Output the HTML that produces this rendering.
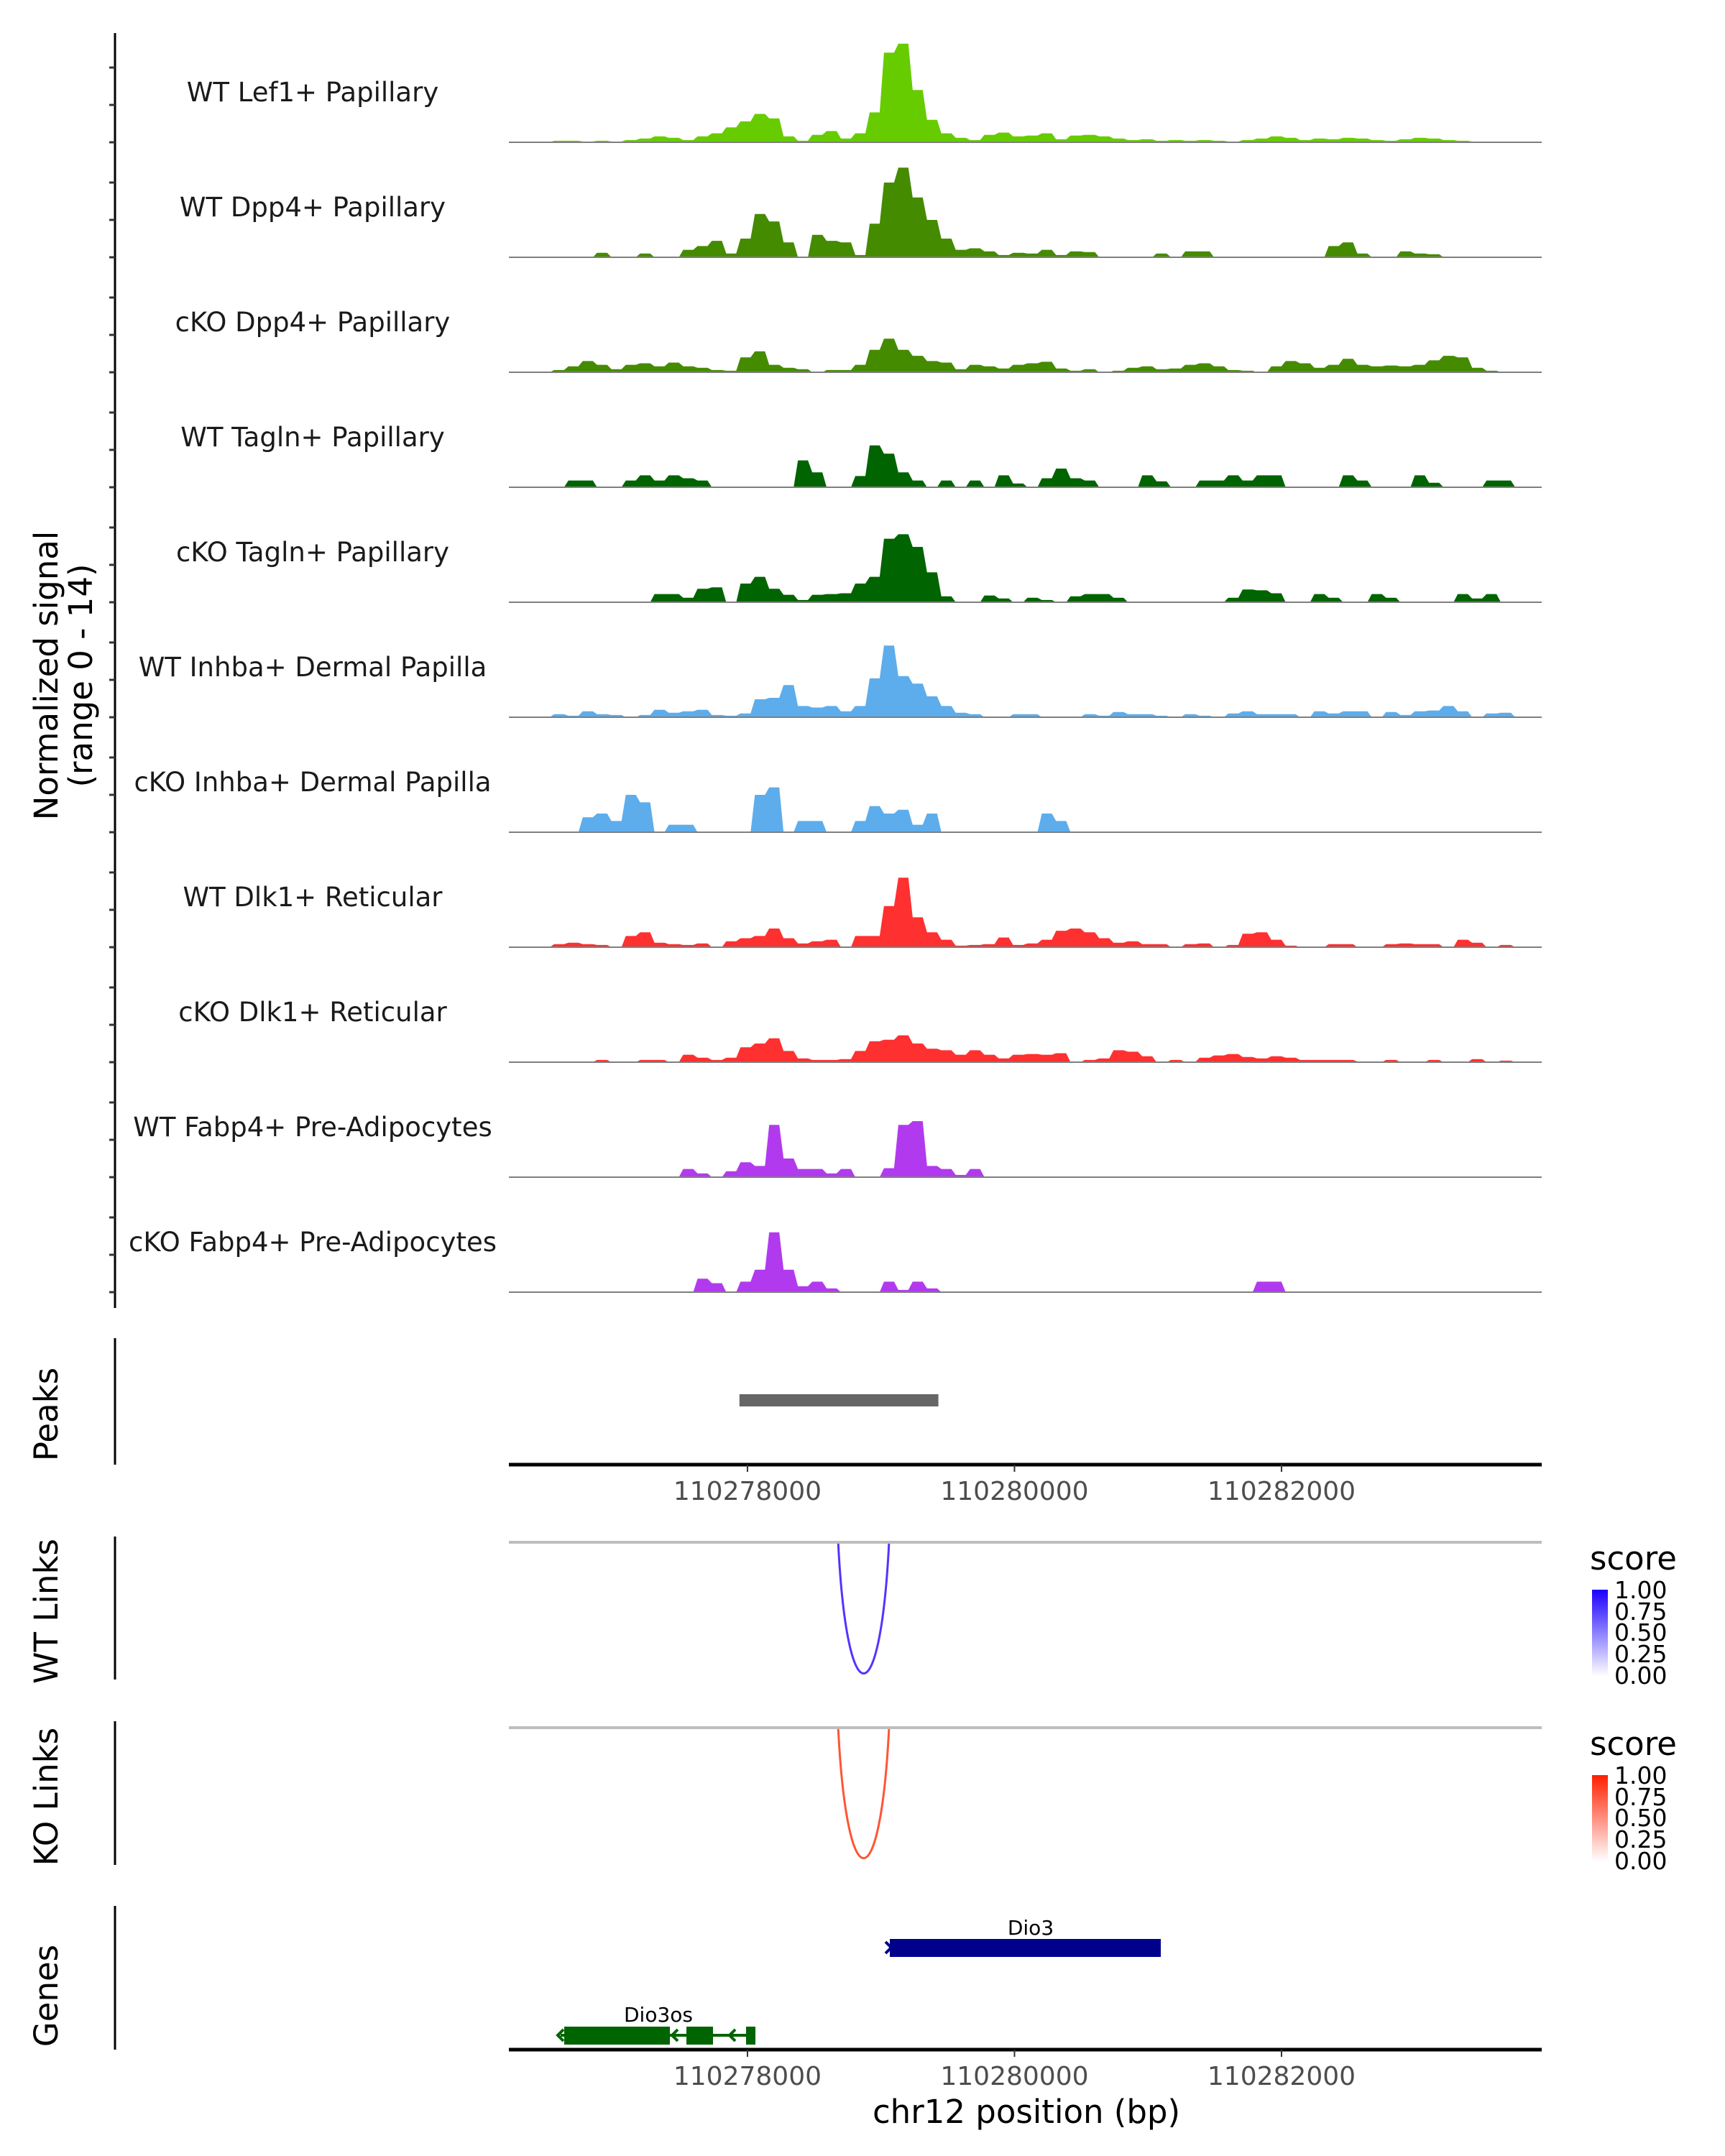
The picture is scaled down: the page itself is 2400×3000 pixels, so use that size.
<!DOCTYPE html>
<html><head><meta charset="utf-8"><style>
html,body{margin:0;padding:0;background:#fff;}
svg{display:block;font-family:"DejaVu Sans","Liberation Sans",sans-serif;}
</style></head><body>
<svg id="chart" width="2400" height="3000" viewBox="0 0 2400 3000" xmlns="http://www.w3.org/2000/svg">
<g id="tracks"></g>
<line x1="160" y1="46" x2="160" y2="1820" stroke="#000" stroke-width="3"/>
<g id="yticks"></g>
<text transform="translate(80,940) rotate(-90)" text-anchor="middle" font-size="45" fill="#000">Normalized signal</text>
<text transform="translate(128,940) rotate(-90)" text-anchor="middle" font-size="45" fill="#000">(range 0 - 14)</text>

<line x1="160" y1="1862" x2="160" y2="2038" stroke="#000" stroke-width="3"/>
<text transform="translate(80,1968) rotate(-90)" text-anchor="middle" font-size="45">Peaks</text>
<g id="peaks"></g>
<g id="axis1"></g>

<line x1="160" y1="2138" x2="160" y2="2337" stroke="#000" stroke-width="3"/>
<text transform="translate(80,2242) rotate(-90)" text-anchor="middle" font-size="45">WT Links</text>
<line x1="708" y1="2146" x2="2145" y2="2146" stroke="#bebebe" stroke-width="4"/>
<g id="wtlinks"></g>

<line x1="160" y1="2395" x2="160" y2="2595" stroke="#000" stroke-width="3"/>
<text transform="translate(80,2500) rotate(-90)" text-anchor="middle" font-size="45">KO Links</text>
<line x1="708" y1="2404" x2="2145" y2="2404" stroke="#bebebe" stroke-width="4"/>
<g id="kolinks"></g>

<defs>
<linearGradient id="gb" x1="0" y1="1" x2="0" y2="0"><stop offset="0" stop-color="#ffffff"/><stop offset="1" stop-color="#1a00ff"/></linearGradient>
<linearGradient id="gr" x1="0" y1="1" x2="0" y2="0"><stop offset="0" stop-color="#ffffff"/><stop offset="1" stop-color="#ff2000"/></linearGradient>
</defs>
<g>
<text x="2212" y="2184" font-size="45">score</text>
<rect x="2215" y="2212" width="22" height="120" fill="url(#gb)"/>
<g font-size="33" fill="#000">
<text x="2246" y="2224">1.00</text><text x="2246" y="2254">0.75</text><text x="2246" y="2283">0.50</text><text x="2246" y="2313">0.25</text><text x="2246" y="2343">0.00</text>
</g></g>
<g>
<text x="2212" y="2442" font-size="45">score</text>
<rect x="2215" y="2470" width="22" height="120" fill="url(#gr)"/>
<g font-size="33" fill="#000">
<text x="2246" y="2482">1.00</text><text x="2246" y="2512">0.75</text><text x="2246" y="2541">0.50</text><text x="2246" y="2571">0.25</text><text x="2246" y="2601">0.00</text>
</g></g>

<line x1="160" y1="2652" x2="160" y2="2852" stroke="#000" stroke-width="3"/>
<text transform="translate(80,2777) rotate(-90)" text-anchor="middle" font-size="45">Genes</text>
<g id="genes"></g>
<g id="axis2"></g>
<text x="1428" y="2954" text-anchor="middle" font-size="45">chr12 position (bp)</text>
</svg>
<script>
const NS='http://www.w3.org/2000/svg';
const trackNames=["WT Lef1+ Papillary","WT Dpp4+ Papillary","cKO Dpp4+ Papillary","WT Tagln+ Papillary","cKO Tagln+ Papillary","WT Inhba+ Dermal Papilla","cKO Inhba+ Dermal Papilla","WT Dlk1+ Reticular","cKO Dlk1+ Reticular","WT Fabp4+ Pre-Adipocytes","cKO Fabp4+ Pre-Adipocytes"];
const trackColors=["#66cc00","#458b00","#458b00","#006400","#006400","#5dadec","#5dadec","#ff3030","#ff3030","#b23aee","#b23aee"];
const regionStart=110276213, regionEnd=110283949;
const xTicks=[110278000,110280000,110282000];
const sigLef1=[0,0,0,0.2,0.2,0.1,0.2,0.1,0.3,0.5,0.8,0.6,0.3,0.8,1.2,2,2.8,3.8,3.2,0.8,0.2,1,1.5,0.5,1.2,4,12,13.2,7,3,1.2,0.6,0.3,1,1.3,0.8,0.9,1.2,0.4,0.9,1,0.8,0.5,0.3,0.4,0.2,0.3,0.2,0.3,0.2,0.1,0.3,0.5,0.8,0.6,0.3,0.5,0.4,0.6,0.5,0.3,0.2,0.4,0.6,0.5,0.3,0.2,0.1,0.1,0,0,0];
const sigWtDpp4=[0,0,0,0,0,0,0.6,0,0,0.5,0,0,1,1.5,2.2,0.5,2.5,5.8,4.8,2,0,3,2.2,2,0.3,4.5,10,12,8,5,2.5,1,1.2,0.8,0.3,0.6,0.5,1,0.3,0.8,0.7,0,0,0,0,0.5,0,0.8,0.8,0,0,0,0,0,0,0,0,1.5,2,0.5,0,0,0.8,0.5,0.4,0,0,0,0,0,0,0];
const sigKoDpp4=[0,0,0,0.3,0.8,1.5,1,0.4,1,1.2,0.8,1.3,0.8,0.6,0.3,0.2,2,2.8,1,0.6,0.4,0,0.3,0.3,1,3,4.5,3,2.2,1.5,1.3,0.4,1,0.8,0.5,1,1.2,1.4,0.5,0.2,0.4,0,0.2,0.6,0.8,0.4,0.5,1,1.2,0.8,0.3,0.2,0,0.8,1.5,1.2,0.6,1,1.8,1,0.8,0.9,0.8,1,1.6,2.2,2,0.6,0.2,0,0,0];
const sigWtTagln=[0,0,0,0,0.9,0.9,0,0,0.9,1.6,0.9,1.6,1.2,0.9,0,0,0,0,0,0,3.6,2,0,0,1.5,5.6,4.5,2,0.9,0,0.9,0,0.9,0,1.6,0.5,0,1.2,2.5,1.2,0.9,0,0,0,1.6,0.8,0,0,0.9,0.9,1.6,0.9,1.6,1.6,0,0,0,0,1.6,0.9,0,0,0,1.6,0.6,0,0,0,0.9,0.9,0,0];
const sigKoTagln=[0,0,0,0,0,0,0,0,0,0,1.1,1.1,0.6,1.8,2,0,2.5,3.4,1.8,1,0.3,1,1.1,1.2,2.5,3.4,8.5,9.1,7.4,4,0.8,0,0,0.9,0.5,0,0.6,0.3,0,0.8,1.1,1.1,0.6,0,0,0,0,0,0,0,0.6,1.7,1.6,1.2,0,0,1.1,0.6,0,0,1.1,0.6,0,0,0,0,1.1,0.5,1.1,0,0,0];
const sigWtInhba=[0,0,0,0.4,0.2,0.8,0.4,0.3,0,0.3,1,0.6,0.8,1,0.3,0.2,0.5,2.4,2.6,4.3,1.5,1.3,1.5,0.8,1.5,5.2,9.6,5.5,4.5,2.8,1.5,0.6,0.4,0,0,0.4,0.4,0,0,0,0.4,0.2,0.7,0.4,0.4,0.2,0,0.4,0.2,0,0.5,0.8,0.4,0.4,0.4,0,0.8,0.5,0.8,0.8,0,0.7,0.3,0.8,0.9,1.5,0.8,0,0.5,0.6,0,0];
const sigKoInhba=[0,0,0,0,0,2,2.5,1.5,5,4,0,1,1,0,0,0,0,5,6,0,1.5,1.5,0,0,1.5,3.5,2.5,3,1,2.5,0,0,0,0,0,0,0,2.5,1.5,0,0,0,0,0,0,0,0,0,0,0,0,0,0,0,0,0,0,0,0,0,0,0,0,0,0,0,0,0,0,0,0,0];
const sigWtDlk1=[0,0,0,0.4,0.6,0.4,0.3,0,1.5,2,0.6,0.4,0.3,0.5,0,0.8,1.2,1.5,2.5,1.2,0.5,0.8,1,0,1.5,1.5,5.5,9.3,4,2,1,0.2,0.3,0.4,1.3,0.3,0.5,1,2.2,2.5,2,1.2,0.6,0.8,0.4,0.4,0,0.4,0.5,0,0.3,1.8,2,1,0.2,0,0,0.4,0.4,0,0,0.4,0.5,0.4,0.4,0,1,0.6,0,0.3,0,0];
const sigKoDlk1=[0,0,0,0,0,0,0.3,0,0,0.3,0.3,0,1,0.6,0.3,0.6,2,2.5,3.2,1.5,0.5,0.3,0.3,0.4,1.5,2.8,3,3.6,2.5,1.8,1.6,1,1.6,1,0.5,1,1.1,1,1.2,0,0.3,0.5,1.6,1.4,0.8,0,0.3,0,0.6,0.9,1.1,0.7,0.5,0.8,0.6,0.3,0.3,0.3,0.3,0.1,0,0.3,0,0,0.3,0,0,0.4,0,0.2,0,0];
const sigWtFabp4=[0,0,0,0,0,0,0,0,0,0,0,0,1.1,0.5,0,0.8,2,1.5,7,2.5,1.1,1.1,0.5,1.1,0,0,1.2,7,7.5,1.5,1.1,0.3,1.1,0,0,0,0,0,0,0,0,0,0,0,0,0,0,0,0,0,0,0,0,0,0,0,0,0,0,0,0,0,0,0,0,0,0,0,0,0,0,0];
const sigKoFabp4=[0,0,0,0,0,0,0,0,0,0,0,0,0,1.8,1.2,0,1.4,3,8,3,0.8,1.4,0.5,0,0,0,1.4,0.3,1.4,0.5,0,0,0,0,0,0,0,0,0,0,0,0,0,0,0,0,0,0,0,0,0,0,1.4,1.4,0,0,0,0,0,0,0,0,0,0,0,0,0,0,0,0,0,0];
const trackSignals=[sigLef1,sigWtDpp4,sigKoDpp4,sigWtTagln,sigKoTagln,sigWtInhba,sigKoInhba,sigWtDlk1,sigKoDlk1,sigWtFabp4,sigKoFabp4];
const peakRanges=[[110277940,110279430]];
const wtLinkStart=110278680, wtLinkEnd=110279060, wtLinkScore=0.8;
const koLinkStart=110278680, koLinkEnd=110279060, koLinkScore=0.8;

const X0=708,X1=2145;
function xScale(bp){return X0+(bp-regionStart)/(regionEnd-regionStart)*(X1-X0);}
const PX_PER_UNIT=10.4, TRACK0=198, TRACK_STEP=160;
function yScale(v,base){return base-v*PX_PER_UNIT;}
function mk(tag,attrs,parent){const e=document.createElementNS(NS,tag);for(const k in attrs)e.setAttribute(k,attrs[k]);parent.appendChild(e);return e;}

const tg=document.getElementById('tracks');
const yt=document.getElementById('yticks');
trackSignals.forEach((sig,t)=>{
  const base=TRACK0+t*TRACK_STEP;
  const n=sig.length, bw=(regionEnd-regionStart)/n;
  let d='M'+X0+','+base;
  sig.forEach((v,i)=>{
    const xa=xScale(regionStart+(i+0.15)*bw), xb=xScale(regionStart+(i+0.85)*bw);
    const y=yScale(v,base);
    d+=' L'+xa.toFixed(1)+','+y.toFixed(1)+' L'+xb.toFixed(1)+','+y.toFixed(1);
  });
  d+=' L'+X1+','+base+' Z';
  const p=mk('path',{d:d,fill:trackColors[t]},tg);
  
  
  const bl=mk('line',{x1:X0,x2:X1,y1:base,y2:base,stroke:'#7f7f7f','stroke-width':2},tg);
  
  
  const lb=mk('text',{x:435,y:base-57,'text-anchor':'middle','font-size':37,fill:'#1a1a1a'},tg);
  lb.textContent=trackNames[t];
  
  
  [0,5,10].forEach(v=>{
    const tk=mk('line',{x1:152,x2:160,y1:yScale(v,base),y2:yScale(v,base),stroke:'#333','stroke-width':3},yt);
    
    
  });
});

const pg=document.getElementById('peaks');
peakRanges.forEach(r=>{
  const rc=mk('rect',{x:xScale(r[0]),y:1940,width:xScale(r[1])-xScale(r[0]),height:17,fill:'#666'},pg);
  
  
});

function axis(id,y,ly){
  const g=document.getElementById(id);
  const l=mk('line',{x1:X0,x2:X1,y1:y,y2:y,stroke:'#000','stroke-width':5},g);
  
  
  xTicks.forEach(t=>{
    const tk=mk('line',{x1:xScale(t),x2:xScale(t),y1:y,y2:y+10,stroke:'#333','stroke-width':2},g);
    
    
    const tx=mk('text',{x:xScale(t),y:ly,'text-anchor':'middle','font-size':36,fill:'#4d4d4d'},g);
    tx.textContent=String(t);
    
    
  });
}
axis('axis1',2038,2087);
axis('axis2',2852,2901);

function link(id,s,e,score,top,depth,color){
  const g=document.getElementById(id);
  const xa=xScale(s), xb=xScale(e), xm=(xa+xb)/2;
  const bottom=top+depth*score/0.8;
  const p=mk('path',{d:'M'+xa+','+top+' C'+(xa+(xm-xa)*0.35)+','+(bottom+(bottom-top)*0.33)+' '+(xb-(xb-xm)*0.35)+','+(bottom+(bottom-top)*0.33)+' '+xb+','+top,fill:'none',stroke:color,'stroke-width':3},g);
  
  
}
link('wtlinks',wtLinkStart,wtLinkEnd,wtLinkScore,2148,181,'#5533ff');
link('kolinks',koLinkStart,koLinkEnd,koLinkScore,2406,180,'#ff5533');

const gg=document.getElementById('genes');
const dio3=mk('rect',{x:1238,y:2698,width:377,height:25,fill:'#00008b'},gg);


const dio3a=mk('path',{d:'M1232,2702 L1240,2710 L1232,2718',fill:'none',stroke:'#00008b','stroke-width':4},gg);


const dio3l=mk('text',{x:1434,y:2692,'text-anchor':'middle','font-size':28},gg);
dio3l.textContent='Dio3';


const osLine=mk('line',{x1:780,x2:1050,y1:2832,y2:2832,stroke:'#006400','stroke-width':4},gg);


[[785,932],[955,992],[1038,1051]].forEach(r=>{
  const e=mk('rect',{x:r[0],y:2820,width:r[1]-r[0],height:25,fill:'#006400'},gg);
  
  
});
[776,935,1015].forEach(x=>{
  const a=mk('path',{d:'M'+(x+8)+',2824 L'+x+',2832 L'+(x+8)+',2840',fill:'none',stroke:'#006400','stroke-width':4},gg);
  
  
});
const osl=mk('text',{x:916,y:2813,'text-anchor':'middle','font-size':28},gg);
osl.textContent='Dio3os';


</script>
</body></html>
